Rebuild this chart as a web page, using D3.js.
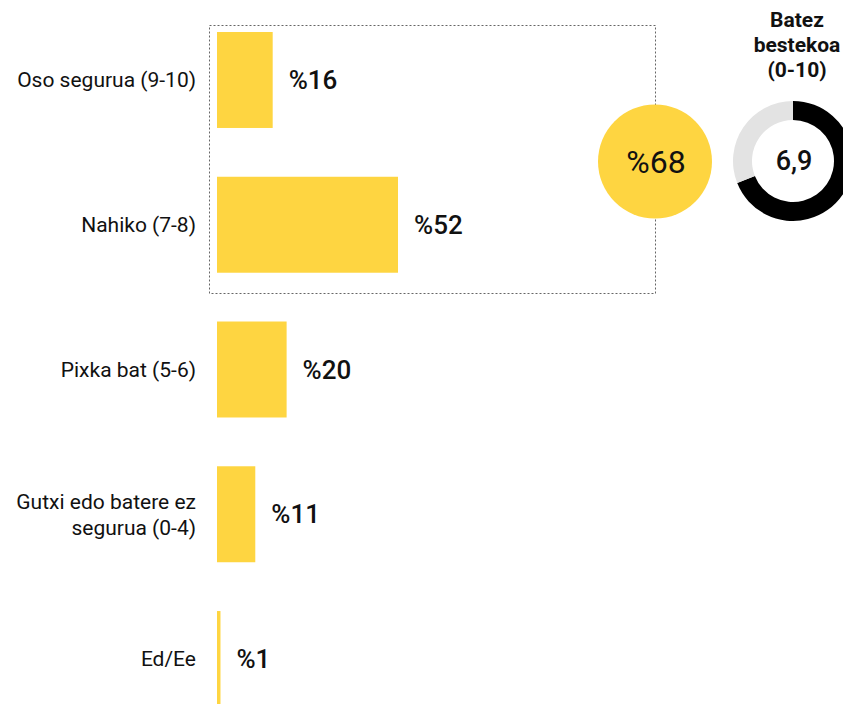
<!DOCTYPE html>
<html lang="eu">
<head>
<meta charset="UTF-8">
<title>Segurtasuna</title>
<script src="https://d3js.org/d3.v7.min.js"></script>
<style>
  body { margin: 0; background: #fff; font-family: Roboto, "Noto Sans", sans-serif; }
  svg { display: block; }
</style>
</head>
<body>
<div id="chart"></div>
<script>
// categories and percentages
const categories = [["Oso segurua (9-10)"], ["Nahiko (7-8)"], ["Pixka bat (5-6)"], ["Gutxi edo batere ez", "segurua (0-4)"], ["Ed/Ee"]];
const values = [16, 52, 20, 11, 1];
const totalSafe = 68;
const average = 6.9;
const averageTitle = ["Batez", "bestekoa", "(0-10)"];

const W = 843, H = 704;
const yellow = "#fed541";

const svg = d3.select("#chart").append("svg")
    .attr("width", W)
    .attr("height", H);

const x = d3.scaleLinear().domain([0, 52]).range([217, 398]);
const y = d3.scaleBand().domain(d3.range(values.length)).range([32, 707]).paddingInner(0.337).paddingOuter(0);

// dashed box round the first two bars
svg.append("rect")
    .attr("x", 209.5).attr("y", 25.5)
    .attr("width", 446).attr("height", 268)
    .attr("fill", "none")
    .attr("stroke", "#666")
    .attr("stroke-width", 1)
    .attr("stroke-dasharray", "2,2");

// bars
svg.selectAll(".bar")
    .data(values)
    .enter()
    .append("rect")
    .attr("class", "bar")
    .attr("x", x(0))
    .attr("y", (d, i) => y(i))
    .attr("width", d => Math.max(x(d) - x(0), 3))
    .attr("height", y.bandwidth())
    .attr("fill", yellow);

// value labels
svg.selectAll(".val")
    .data(values)
    .enter()
    .append("text")
    .attr("x", d => Math.max(x(d), x(0) + 3) + 16)
    .attr("y", (d, i) => y(i) + y.bandwidth() / 2)
    .attr("dy", "0.35em")
    .attr("font-size", 26)
    .attr("font-weight", 500)
    .attr("fill", "#111")
    .text(d => "%" + d);

// category labels
const cat = svg.selectAll(".cat")
    .data(categories)
    .enter()
    .append("text")
    .attr("text-anchor", "end")
    .attr("font-size", 21)
    .attr("fill", "#111")
    .attr("y", (d, i) => y(i) + y.bandwidth() / 2);

cat.selectAll("tspan")
    .data(d => d.map((t, k) => ({ t, k, n: d.length })))
    .enter()
    .append("tspan")
    .attr("x", 196)
    .attr("dy", d => d.k === 0 ? (0.35 - (d.n - 1) * 0.62) + "em" : "1.24em")
    .text(d => d.t);

// big yellow circle with total
svg.append("circle")
    .attr("cx", 655).attr("cy", 161.5).attr("r", 57)
    .attr("fill", yellow);
svg.append("text")
    .attr("x", 656).attr("y", 161.5)
    .attr("dy", "0.35em")
    .attr("text-anchor", "middle")
    .attr("font-size", 32)
    .attr("fill", "#111")
    .text("%" + totalSafe);

// average donut
const donut = svg.append("g").attr("transform", "translate(793,161)");
const pie = d3.pie().sort(null)([average, 10 - average]);
const arc = d3.arc().innerRadius(41).outerRadius(60);
donut.selectAll("path")
    .data(pie)
    .enter()
    .append("path")
    .attr("d", arc)
    .attr("fill", (d, i) => i === 0 ? "#000" : "#e3e3e3");
donut.append("text")
    .attr("x", 1)
    .attr("text-anchor", "middle")
    .attr("dy", "0.35em")
    .attr("font-size", 27)
    .attr("font-weight", 500)
    .attr("fill", "#111")
    .text(String(average).replace(".", ","));

svg.append("text")
    .attr("text-anchor", "middle")
    .attr("font-size", 21)
    .attr("font-weight", 700)
    .attr("fill", "#111")
    .selectAll("tspan")
    .data(averageTitle)
    .enter()
    .append("tspan")
    .attr("x", 797)
    .attr("y", (d, i) => 27 + i * 25)
    .text(d => d);
</script>
</body>
</html>
